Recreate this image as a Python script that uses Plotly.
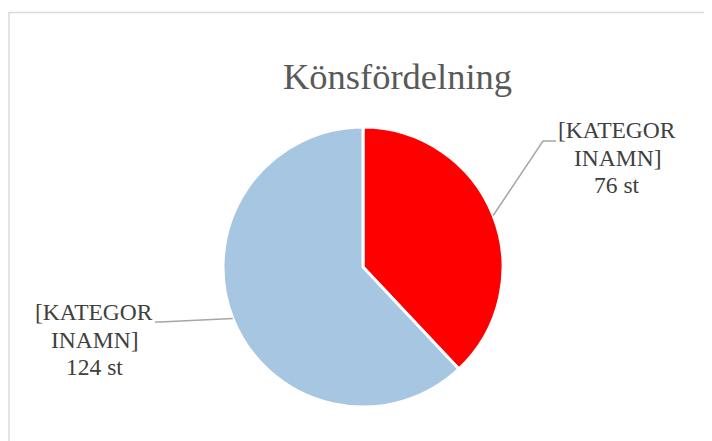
import math
import plotly.graph_objects as go

categories = ["[KATEGORINAMN] A", "[KATEGORINAMN] B"]
values = [76, 124]
colors = ["#FF0000", "#A7C6E2"]
label_lines = [["[KATEGOR", "INAMN]", "76 st"], ["[KATEGOR", "INAMN]", "124 st"]]
title_text = "Könsfördelning"

W, H = 712, 441
OFF = 8  # page body margin
cx, cy, r = 363, 267, 140

def px(x):
    return (x - OFF) / W

def py(y):
    return 1 - (y - OFF) / H

fig = go.Figure(go.Pie(
    labels=categories, values=values, sort=False, direction="clockwise", rotation=0,
    marker=dict(colors=colors, line=dict(color="white", width=3)),
    textinfo="none", hoverinfo="label+value", showlegend=False,
    domain=dict(x=[px(cx - r), px(cx + r)], y=[py(cy + r), py(cy - r)]),
))

total = sum(values)
cum = 0
shapes = []
label_pos = [(617, 130), (94, 312)]
line_gap = 27.5
elbows = [((543, 141), (556, 141)), ((160, 322), (155, 322))]
for i, v in enumerate(values):
    mid = (cum + v / 2) / total * 2 * math.pi
    cum += v
    sx = cx + r * math.sin(mid)
    sy = cy - r * math.cos(mid)
    (ex, ey), (hx, hy) = elbows[i]
    path = f"M {px(sx)},{py(sy)} L {px(ex)},{py(ey)} L {px(hx)},{py(hy)}"
    shapes.append(dict(type="path", xref="paper", yref="paper", path=path,
                       line=dict(color="#A6A6A6", width=1.5)))

shapes.append(dict(type="rect", xref="paper", yref="paper",
                   x0=px(9), x1=1.2, y0=-0.2, y1=py(12.5),
                   line=dict(color="#D9D9D9", width=1.5), layer="below"))

annotations = []
for (lx, ly), lines in zip(label_pos, label_lines):
    for k, t in enumerate(lines):
        annotations.append(dict(x=px(lx), y=py(ly + k * line_gap), xref="paper", yref="paper",
                                text=t, showarrow=False, align="center",
                                xanchor="center", yanchor="middle",
                                font=dict(family="Liberation Serif", size=23.5, color="#404040")))
annotations.append(dict(x=px(397.5), y=py(76), xref="paper", yref="paper",
                        text=title_text, showarrow=False, xanchor="center", yanchor="middle",
                        font=dict(family="Liberation Serif", size=36.5, color="#595959")))

fig.update_layout(width=W, height=H, margin=dict(l=0, r=0, t=0, b=0),
                  paper_bgcolor="white", plot_bgcolor="white",
                  shapes=shapes, annotations=annotations)

fig.write_html("out.html")
